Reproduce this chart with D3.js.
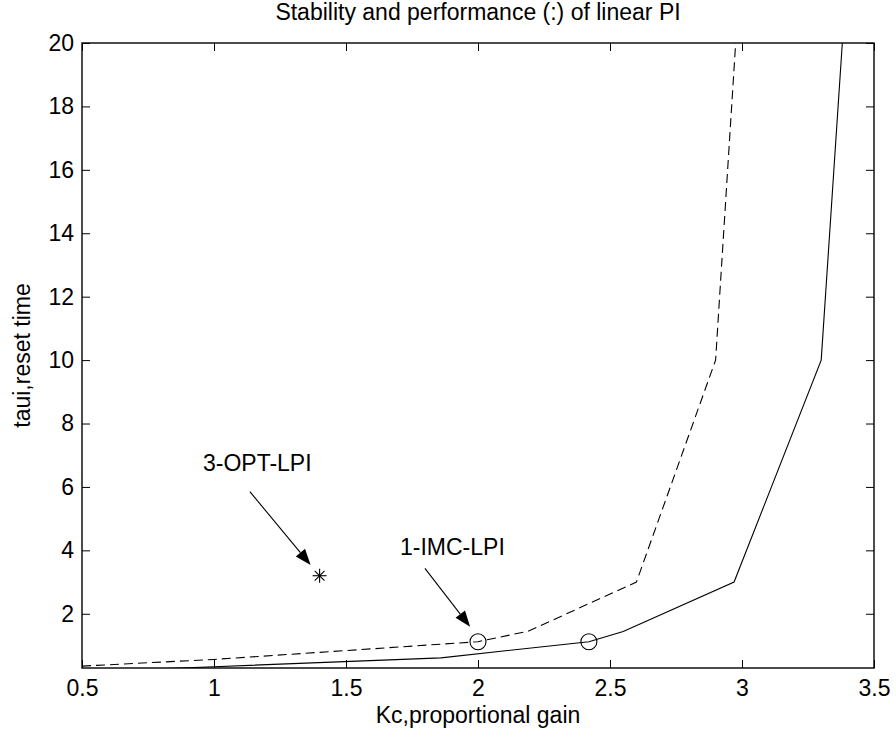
<!DOCTYPE html>
<html>
<head>
<meta charset="utf-8">
<script src="https://cdn.jsdelivr.net/npm/d3@7"></script>
<style>
  html, body { margin: 0; padding: 0; background: #fff; }
  text { font-family: "Liberation Sans", Arial, sans-serif; fill: #000; }
</style>
</head>
<body>
<svg id="chart" width="896" height="734"></svg>
<script>
// ---- data ----
const kcSolid  = [0.5, 1.0, 1.86, 2.42, 2.55, 2.97, 3.30, 3.38];
const tauSolid = [0.17, 0.33, 0.61, 1.12, 1.44, 3.0, 10.0, 20.0];
const kcDash   = [0.5, 1.0, 2.0, 2.19, 2.60, 2.90, 2.976];
const tauDash  = [0.35, 0.56, 1.12, 1.45, 3.0, 10.0, 20.0];
const circleKc  = [2.0, 2.42];
const circleTau = [1.12, 1.12];
const starKc  = [1.4];
const starTau = [3.2];
const xTicks = [0.5, 1, 1.5, 2, 2.5, 3, 3.5];
const yTicks = [2, 4, 6, 8, 10, 12, 14, 16, 18, 20];
const annLabels = ["3-OPT-LPI", "1-IMC-LPI"];
const annTextKc  = [1.164, 1.903];
const annTextTau = [6.50, 3.85];
const annTailKc  = [1.136, 1.799];
const annTailTau = [5.85, 3.43];
const annTipKc   = [1.366, 1.970];
const annTipTau  = [3.54, 1.59];
const titleText = "Stability and performance (:) of linear PI";
const xLabel = "Kc,proportional gain";
const yLabel = "taui,reset time";

// ---- layout ----
const W = 896, H = 734;
const m = {left: 82, right: 22, top: 43, bottom: 66};
const iw = W - m.left - m.right, ih = H - m.top - m.bottom;
const FS = 23;

const svg = d3.select("#chart");
const g = svg.append("g").attr("transform", `translate(${m.left},${m.top})`);

const x = d3.scaleLinear().domain([0.5, 3.5]).range([0, iw]);
const y = d3.scaleLinear().domain([0.29, 20]).range([ih, 0]);

svg.append("defs").append("clipPath").attr("id", "clip")
  .append("rect").attr("width", iw).attr("height", ih);

// axes (ticks inward, mirrored)
const fmt = d => String(d);
const tickLen = 8;
const axB = g.append("g").attr("transform", `translate(0,${ih})`)
  .call(d3.axisBottom(x).tickValues(xTicks).tickFormat(fmt).tickSizeInner(-tickLen).tickSizeOuter(0).tickPadding(12));
const axT = g.append("g")
  .call(d3.axisTop(x).tickValues(xTicks).tickFormat("").tickSizeInner(-tickLen).tickSizeOuter(0));
const axL = g.append("g")
  .call(d3.axisLeft(y).tickValues(yTicks).tickFormat(fmt).tickSizeInner(-tickLen).tickSizeOuter(0).tickPadding(8));
const axR = g.append("g").attr("transform", `translate(${iw},0)`)
  .call(d3.axisRight(y).tickValues(yTicks).tickFormat("").tickSizeInner(-tickLen).tickSizeOuter(0));
[axB, axT, axL, axR].forEach(a => {
  a.select(".domain").remove();
  a.selectAll(".tick line").attr("stroke", "#000").attr("stroke-width", 1);
  a.selectAll("text").attr("font-size", FS).attr("fill", "#000")
    .style("font-family", '"Liberation Sans", Arial, sans-serif');
});
axB.selectAll("text").attr("dy", "0.7em");

// box
g.append("rect").attr("width", iw).attr("height", ih)
  .attr("fill", "none").attr("stroke", "#000").attr("stroke-width", 1.4);

// lines
const line = d3.line().x(d => x(d[0])).y(d => y(d[1]));
const plot = g.append("g").attr("clip-path", "url(#clip)");
plot.append("path").datum(kcSolid.map((k, i) => [k, tauSolid[i]]))
  .attr("d", line).attr("fill", "none").attr("stroke", "#000").attr("stroke-width", 1.1);
plot.append("path").datum(kcDash.map((k, i) => [k, tauDash[i]]))
  .attr("d", line).attr("fill", "none").attr("stroke", "#000").attr("stroke-width", 1.1)
  .attr("stroke-dasharray", "9,5");

// circles
g.selectAll("circle.mk").data(circleKc.map((k, i) => [k, circleTau[i]])).join("circle")
  .attr("class", "mk").attr("cx", d => x(d[0])).attr("cy", d => y(d[1])).attr("r", 8)
  .attr("fill", "none").attr("stroke", "#000").attr("stroke-width", 1.1);

// star marker
const starG = g.selectAll("g.star").data(starKc.map((k, i) => [k, starTau[i]])).join("g")
  .attr("class", "star").attr("transform", d => `translate(${x(d[0])},${y(d[1])})`);
const s = 7;
[[-s, 0, s, 0], [0, -s, 0, s], [-s*0.7, -s*0.7, s*0.7, s*0.7], [-s*0.7, s*0.7, s*0.7, -s*0.7]].forEach(l => {
  starG.append("line").attr("x1", l[0]).attr("y1", l[1]).attr("x2", l[2]).attr("y2", l[3])
    .attr("stroke", "#000").attr("stroke-width", 1.1);
});

// annotations
annLabels.forEach((lab, i) => {
  g.append("text").attr("x", x(annTextKc[i])).attr("y", y(annTextTau[i]))
    .attr("text-anchor", "middle").attr("font-size", FS).text(lab);
  const x1 = x(annTailKc[i]), y1 = y(annTailTau[i]);
  const x2 = x(annTipKc[i]), y2 = y(annTipTau[i]);
  const ang = Math.atan2(y2 - y1, x2 - x1);
  const hl = 16, hw = 6;
  const bx = x2 - hl * Math.cos(ang), by = y2 - hl * Math.sin(ang);
  g.append("line").attr("x1", x1).attr("y1", y1).attr("x2", bx).attr("y2", by)
    .attr("stroke", "#000").attr("stroke-width", 1.1);
  const px = -Math.sin(ang) * hw, py = Math.cos(ang) * hw;
  g.append("path")
    .attr("d", `M${x2},${y2}L${bx + px},${by + py}L${bx - px},${by - py}Z`)
    .attr("fill", "#000");
});

// title & labels
svg.append("text").attr("x", m.left + iw / 2).attr("y", 20)
  .attr("text-anchor", "middle").attr("font-size", FS).text(titleText);
svg.append("text").attr("x", m.left + iw / 2).attr("y", 723)
  .attr("text-anchor", "middle").attr("font-size", FS).text(xLabel);
svg.append("text").attr("transform", `translate(30,${m.top + ih / 2}) rotate(-90)`)
  .attr("text-anchor", "middle").attr("font-size", FS).text(yLabel);
</script>
</body>
</html>
